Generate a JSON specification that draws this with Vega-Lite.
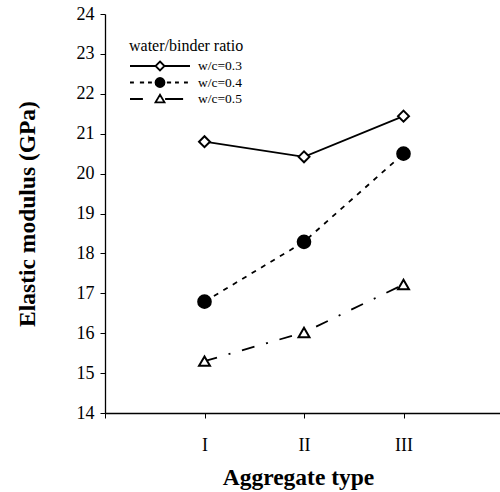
{
  "$schema": "https://vega.github.io/schema/vega-lite/v6.json",
  "width": 398,
  "height": 399,
  "autosize": {"type": "none"},
  "padding": {"left": 105, "top": 14, "right": 0, "bottom": 79},
  "background": "white",
  "config": {
    "font": "Liberation Serif",
    "view": {"stroke": null},
    "axis": {
      "grid": false,
      "domainColor": "black",
      "domainWidth": 1.3,
      "tickColor": "black",
      "tickWidth": 1,
      "tickSize": 5,
      "labelColor": "black",
      "labelFont": "Liberation Serif",
      "labelFontSize": 18,
      "titleColor": "black",
      "titleFont": "Liberation Serif",
      "titleFontWeight": "bold",
      "titleFontSize": 23.5
    }
  },
  "data": {
    "values": [
      {"type": 1, "ratio": "w/c=0.3", "E": 20.8},
      {"type": 2, "ratio": "w/c=0.3", "E": 20.42},
      {"type": 3, "ratio": "w/c=0.3", "E": 21.44},
      {"type": 1, "ratio": "w/c=0.4", "E": 16.79},
      {"type": 2, "ratio": "w/c=0.4", "E": 18.29},
      {"type": 3, "ratio": "w/c=0.4", "E": 20.5},
      {"type": 1, "ratio": "w/c=0.5", "E": 15.3},
      {"type": 2, "ratio": "w/c=0.5", "E": 16.02},
      {"type": 3, "ratio": "w/c=0.5", "E": 17.22}
    ]
  },
  "encoding": {
    "x": {
      "field": "type",
      "type": "quantitative",
      "scale": {"domain": [0, 4]},
      "axis": {
        "title": "Aggregate type",
        "values": [0, 1, 2, 3],
        "labelExpr": "['', 'I', 'II', 'III'][datum.value]",
        "labelPadding": 18,
        "titlePadding": 11,
        "titleX": 193
      }
    },
    "y": {
      "field": "E",
      "type": "quantitative",
      "scale": {"domain": [14, 24]},
      "axis": {
        "title": "Elastic modulus (GPa)",
        "values": [14, 15, 16, 17, 18, 19, 20, 21, 22, 23, 24],
        "labelPadding": 6,
        "titlePadding": 37
      }
    }
  },
  "layer": [
    {
      "transform": [{"filter": "datum.ratio === 'w/c=0.3'"}],
      "mark": {"type": "line", "stroke": "black", "strokeWidth": 1.7}
    },
    {
      "transform": [{"filter": "datum.ratio === 'w/c=0.4'"}],
      "mark": {"type": "line", "stroke": "black", "strokeWidth": 1.8, "strokeDash": [5, 6]}
    },
    {
      "transform": [{"filter": "datum.ratio === 'w/c=0.5'"}],
      "mark": {"type": "line", "stroke": "black", "strokeWidth": 1.8, "strokeDash": [13, 12, 2, 12]}
    },
    {
      "transform": [{"filter": "datum.ratio === 'w/c=0.3'"}],
      "mark": {"type": "point", "shape": "diamond", "size": 120, "filled": true, "fill": "white", "stroke": "black", "strokeWidth": 2, "opacity": 1}
    },
    {
      "transform": [{"filter": "datum.ratio === 'w/c=0.4'"}],
      "mark": {"type": "point", "shape": "circle", "size": 170, "filled": true, "fill": "black", "stroke": "black", "strokeWidth": 1.6, "opacity": 1}
    },
    {
      "transform": [{"filter": "datum.ratio === 'w/c=0.5'"}],
      "mark": {"type": "point", "shape": "triangle-up", "size": 120, "filled": true, "fill": "white", "stroke": "black", "strokeWidth": 2, "opacity": 1}
    },
    {
      "transform": [{"filter": "false"}],
      "mark": {"type": "point", "filled": true, "stroke": "black", "strokeWidth": 1.8, "opacity": 1},
      "encoding": {
        "shape": {
          "field": "ratio",
          "type": "nominal",
          "scale": {
            "domain": ["w/c=0.3", "w/c=0.4", "w/c=0.5"],
            "range": [
              "M-1,0H-0.15M0.15,0H1M0,-0.15L0.15,0L0,0.15L-0.15,0Z",
              "M-1,0H-0.87M-0.67,0H-0.53M-0.4,0H-0.27M0.23,0H0.37M0.5,0H0.63M0.8,0H0.93M0.15,0A0.15,0.15,0,1,1,-0.15,0A0.15,0.15,0,1,1,0.15,0Z",
              "M-1,0H-0.57M0.17,0H0.77M0,-0.14L0.15,0.11L-0.15,0.11Z"
            ]
          },
          "legend": {
            "title": "water/binder ratio",
            "orient": "none",
            "legendX": 24,
            "legendY": 24,
            "titleFont": "Liberation Serif",
            "titleFontSize": 16,
            "titleFontWeight": "normal",
            "titleColor": "black",
            "titlePadding": 4,
            "labelFont": "Liberation Serif",
            "labelFontSize": 13.5,
            "labelColor": "black",
            "labelOffset": 7,
            "symbolSize": 3600,
            "symbolStrokeWidth": 1.8,
            "symbolStrokeColor": "black",
            "symbolOpacity": 1,
            "clipHeight": 16,
            "rowPadding": 0.5,
            "padding": 0
          }
        },
        "fill": {
          "field": "ratio",
          "type": "nominal",
          "scale": {"domain": ["w/c=0.3", "w/c=0.4", "w/c=0.5"], "range": ["white", "black", "white"]},
          "legend": {
            "title": "water/binder ratio",
            "orient": "none",
            "legendX": 24,
            "legendY": 24,
            "symbolSize": 3600,
            "clipHeight": 16,
            "rowPadding": 0.5,
            "padding": 0
          }
        },
        "stroke": {
          "field": "ratio",
          "type": "nominal",
          "scale": {"domain": ["w/c=0.3", "w/c=0.4", "w/c=0.5"], "range": ["black", "black", "black"]},
          "legend": {
            "title": "water/binder ratio",
            "orient": "none",
            "legendX": 24,
            "legendY": 24,
            "symbolSize": 3600,
            "clipHeight": 16,
            "rowPadding": 0.5,
            "padding": 0
          }
        }
      }
    }
  ]
}
